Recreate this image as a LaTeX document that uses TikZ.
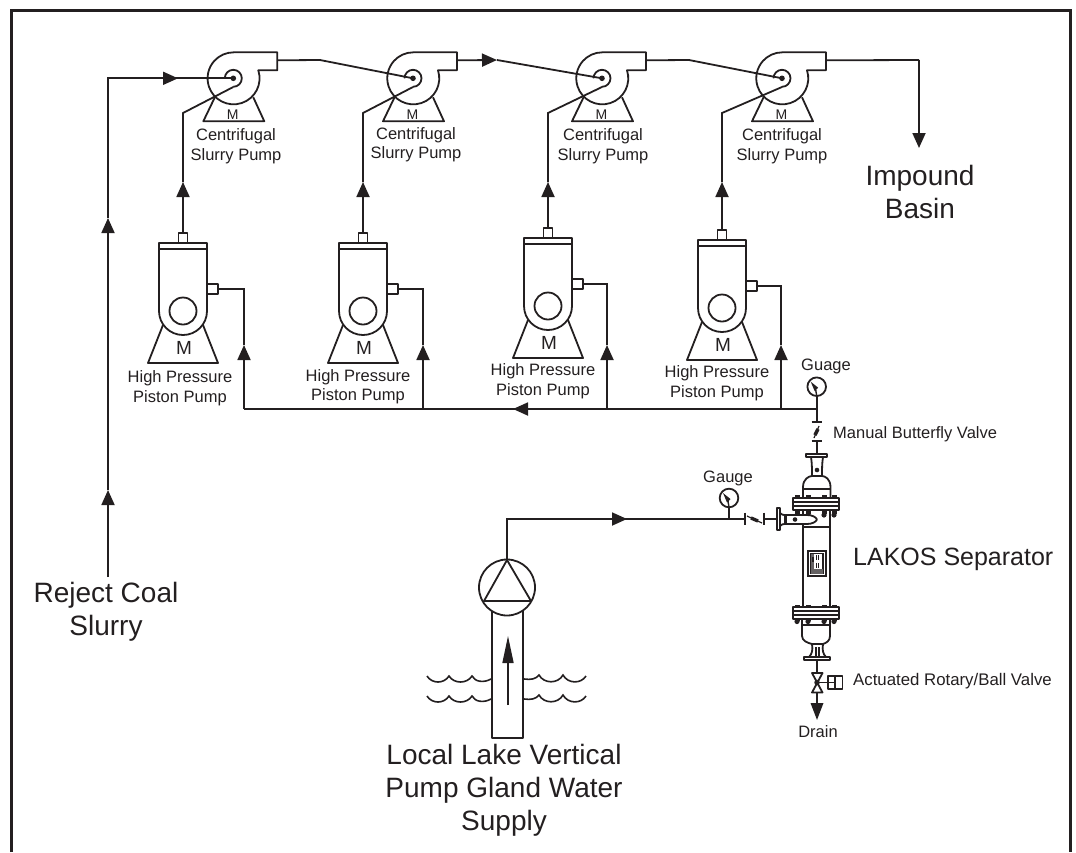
\documentclass[tikz,border=0pt]{standalone}
\usepackage{fontspec}
\setmainfont{Liberation Sans}
\usetikzlibrary{arrows.meta}
\definecolor{PlantInk}{HTML}{231F20}

\tikzset{
  pipeline/.style={PlantInk,line width=1.8pt,line join=miter},
  pipetip/.style={pipeline,-{Triangle[length=15pt,width=13pt]}},
  outline/.style={PlantInk,line width=1.8pt,line join=round},
  smalllabel/.style={PlantInk,font=\fontsize{16.5}{19.5}\selectfont,align=center,inner sep=0pt},
  largelabel/.style={PlantInk,font=\fontsize{28}{33}\selectfont,align=center,inner sep=0pt},
  slurrypump/.pic={
    \draw[outline] (25,-8) arc[start angle=-18,end angle=270,radius=26]
      -- (44,-26) -- (44,-8) -- cycle;
    \draw[outline] (-18.3,18.7) -- (-30,43) -- (31,43) -- (20,19);
    \draw[outline] (-8.5,0) arc[start angle=180,end angle=450,radius=8.5];
    \fill[PlantInk] (0,0) circle (2.8);
    \node[smalllabel,font=\fontsize{14}{14}\selectfont] (-motor) at (-0.5,36) {M};
    \coordinate (-eye) at (0,0);
    \coordinate (-suction) at (0,8.7);
    \coordinate (-discharge) at (44,-18);
  },
  pistonpump/.pic={
    \draw[outline] (-24,-62) -- (-24,0) arc[start angle=180,end angle=0,radius=24] -- (24,-62);
    \draw[outline] (-24,-68) rectangle (24,-62);
    \draw[outline] (-4.5,-78) rectangle (4.5,-68);
    \draw[outline] (24,-27) rectangle (35,-17);
    \draw[outline] (0,0) circle (13.5);
    \draw[outline] (-20,14) -- (-35,52) -- (35,52) -- (20,14);
    \node[smalllabel,font=\fontsize{19}{19}\selectfont] (-motor) at (1,37) {M};
    \coordinate (-outlet) at (0,-78);
    \coordinate (-inlet) at (35,-22);
  },
  dialgauge/.pic={
    \draw[outline] (0,0) circle (9.3);
    \draw[PlantInk,line width=1.4pt] (0,9.3) -- (-1,3);
    \fill[PlantInk] (-6,-5) -- (1.5,1) -- (-2,4.5) -- cycle;
    \coordinate (-stem) at (0,9.3);
  },
}

\begin{document}
\begin{tikzpicture}[x=1pt,y=-1pt]
  \useasboundingbox (0,0) rectangle (1076,852);
  % border, open at the foot
  \draw[PlantInk,line width=3pt] (11.5,852) -- (11.5,10) -- (1070,10) -- (1070,852);

  % centrifugal row
  \foreach \idx/\cx in {1/233.3,2/413,3/602,4/782}
    \pic (cp\idx) at (\cx,78.3) {slurrypump};
  \node[smalllabel] (cplabel1) at (236,146) {Centrifugal\\Slurry Pump};
  \node[smalllabel] (cplabel2) at (416,144.5) {Centrifugal\\Slurry Pump};
  \node[smalllabel] (cplabel3) at (603,146) {Centrifugal\\Slurry Pump};
  \node[smalllabel] (cplabel4) at (782,146) {Centrifugal\\Slurry Pump};

  % piston row
  \foreach \idx/\cx/\cy in {1/183/311,2/363/311,3/548/306,4/722/308}
    \pic (hp\idx) at (\cx,\cy) {pistonpump};
  \node[smalllabel] (hplabel1) at (180,388) {High Pressure\\Piston Pump};
  \node[smalllabel] (hplabel2) at (358,386.5) {High Pressure\\Piston Pump};
  \node[smalllabel] (hplabel3) at (543,381) {High Pressure\\Piston Pump};
  \node[smalllabel] (hplabel4) at (717,383) {High Pressure\\Piston Pump};

  % slurry train
  \coordinate (slurryfoot) at (108,577);
  \coordinate (slurrytipa) at (108,490);
  \coordinate (slurrytipb) at (108,218);
  \coordinate (slurrycorner) at (108,78.3);
  \coordinate (slurrytipc) at (178,78.3);
  \draw[pipetip] (slurryfoot) -- (slurrytipa);
  \draw[pipetip] (slurrytipa) -- (slurrytipb);
  \draw[pipeline] (slurrytipb) -- (slurrycorner) -- (cp1-eye);
  \draw[pipetip] (slurrycorner) -- (slurrytipc);

  \coordinate (linkbenda) at (320,60);
  \coordinate (linkbendb) at (497,60);
  \coordinate (linkbendc) at (689,60);
  \draw[pipeline] (cp1-discharge) -- (linkbenda) -- (cp2-eye);
  \draw[pipetip] (cp2-discharge) -- (linkbendb);
  \draw[pipeline] (linkbendb) -- (cp3-eye);
  \draw[pipeline] (cp3-discharge) -- (linkbendc) -- (cp4-eye);

  \coordinate (basincorner) at (919,60);
  \coordinate (basintip) at (919,148);
  \draw[pipeline] (cp4-discharge) -- (basincorner);
  \draw[pipetip] (basincorner) -- (basintip);

  % piston to centrifugal
  \foreach \idx/\rx in {1/183,2/363,3/548,4/722} {
    \coordinate (risetip\idx) at (\rx,182);
    \coordinate (knee\idx) at (\rx,113);
    \draw[pipetip] (hp\idx-outlet) -- (risetip\idx);
    \draw[pipeline] (risetip\idx) -- (knee\idx) -- (cp\idx-suction);
  }

  % gland water header
  \coordinate (headerend) at (816.7,409);
  \coordinate (headertip) at (513,409);
  \draw[pipeline] (headerend) -- (244,409);
  \draw[pipetip] (headerend) -- (headertip);
  \foreach \idx/\hx in {1/244,2/423,3/607,4/781} {
    \coordinate (feedfoot\idx) at (\hx,409);
    \coordinate (feedtip\idx) at (\hx,345);
    \draw[pipetip] (feedfoot\idx) -- (feedtip\idx);
    \draw[pipeline] (feedtip\idx) |- (hp\idx-inlet);
  }

  % top gauge and butterfly valve
  \pic (gaugetop) at (816.7,386.7) {dialgauge};
  \node[smalllabel] (gaugetoplabel) at (826,366) {Guage};
  \coordinate (valvetop) at (816.7,422);
  \coordinate (valvelow) at (816.7,441);
  \coordinate (sepinlet) at (816.7,455);
  \draw[pipeline] (gaugetop-stem) -- (valvetop);
  \draw[pipeline] (valvelow) -- (sepinlet);
  \draw[outline] (811.5,422) -- (822,422);
  \draw[outline] (811.5,441) -- (822,441);
  \draw[PlantInk,line width=1.2pt] (819,426) -- (814,438);
  \draw[PlantInk,line width=3.4pt] (818,429) -- (815,435);
  \node[smalllabel,anchor=west] (butterflylabel) at (833,434) {Manual Butterfly Valve};

  % lake pump and its pipe
  \draw[outline] (492,600) -- (492,738) -- (523,738) -- (523,600);
  \draw[outline,fill=white] (507,587.5) circle (28);
  \coordinate (lakeapex) at (507,560);
  \draw[outline] (lakeapex) -- (484,601) -- (531,601) -- cycle;
  \coordinate (liftfoot) at (508,705);
  \coordinate (lifttip) at (508,636);
  \draw[PlantInk,line width=1.6pt,-{Triangle[length=27pt,width=11pt]}] (liftfoot) -- (lifttip);
  \foreach \wy in {0,20} {
    \draw[PlantInk,line width=1.6pt,yshift=-\wy pt]
      (427,676) .. controls (432,684) and (444,684) .. (449,676)
      .. controls (454,684) and (467,684) .. (472,676)
      .. controls (475,682) and (484,683) .. (491,679);
    \draw[PlantInk,line width=1.6pt,yshift=-\wy pt]
      (524,679) .. controls (531,680) and (536,679) .. (539,675)
      .. controls (544,684) and (558,684) .. (563,675)
      .. controls (568,684) and (581,684) .. (586,676);
  }

  % inlet with its gauge and check valve
  \coordinate (inletcorner) at (507,519);
  \coordinate (inlettip) at (627,519);
  \coordinate (inletend) at (745,519);
  \draw[pipeline] (lakeapex) -- (inletcorner) -- (inletend);
  \draw[pipetip] (inletcorner) -- (inlettip);
  \pic (gaugeside) at (729,498) {dialgauge};
  \node[smalllabel] (gaugesidelabel) at (728,478) {Gauge};
  \coordinate (gaugesidefoot) at (729,519);
  \draw[pipeline] (gaugeside-stem) -- (gaugesidefoot);
  \draw[outline] (745,512.5) -- (745,525);
  \draw[outline] (764,512.5) -- (764,525);
  \draw[PlantInk,line width=1.2pt] (747,516) -- (762,523);
  \draw[PlantInk,line width=3.4pt] (751,518) -- (758,521);
  \coordinate (sepstub) at (764,519);
  \coordinate (sepflange) at (777,519);
  \draw[pipeline] (sepstub) -- (sepflange);

  % separator
  \draw[outline] (803,527) -- (830,527);
  \draw[outline] (803,510) -- (803,608);
  \draw[outline] (830,510) -- (830,608);
  \draw[outline] (806,454) rectangle (827,457);
  \draw[outline] (811,457) .. controls (812,463) and (812,470) .. (812,476);
  \draw[outline] (823,457) .. controls (822,463) and (822,470) .. (822,476);
  \fill[PlantInk] (817,470) circle (2.3);
  \draw[outline] (803,498) -- (803,487) .. controls (803,479) and (809,476) .. (812,476)
    -- (822,476) .. controls (825,476) and (830.5,479) .. (830.5,487) -- (830.5,498);
  \draw[outline] (803,489) -- (830.5,489);
  \foreach \boltx in {797,808,824,834} {
    \fill[PlantInk] (\boltx-2.5,495) rectangle (\boltx+2.5,498.5);
    \fill[PlantInk] (\boltx-2.5,510) rectangle (\boltx+2.5,514);
    \fill[PlantInk] (\boltx,515) circle (2.6);
  }
  \draw[outline,fill=white] (793,498) rectangle (839,510);
  \draw[PlantInk,line width=1.1pt] (793,502) -- (839,502) (793,506) -- (839,506);
  % scroll inlet
  \draw[outline] (777,508) rectangle (780,530);
  \draw[outline] (780,513) .. controls (782,515) and (783,515) .. (785,515);
  \draw[outline] (780,526) .. controls (782,524) and (783,524) .. (785,524);
  \draw[outline,fill=white] (785,515) -- (807,515) .. controls (812,515) and (816,517) .. (817,519.5)
    .. controls (816,522) and (812,524) .. (807,524) -- (785,524) -- cycle;
  \fill[PlantInk] (785,515) rectangle (787,524);
  \fill[PlantInk] (795,519.5) circle (2.3);
  % sight window
  \draw[PlantInk,line width=1.5pt,fill=white] (808,551) rectangle (826,576);
  \draw[PlantInk,line width=1.1pt,fill=white] (811,553.5) rectangle (823,573.5);
  \fill[PlantInk!70] (811,553.5) rectangle (814,573.5);
  \fill[PlantInk] (811.5,556.5) rectangle (814,562);
  \draw[PlantInk,line width=0.9pt] (816.5,555) -- (816.5,560) (816.5,563) -- (816.5,568)
    (818.5,555) -- (818.5,560) (818.5,563) -- (818.5,568);
  \fill[PlantInk!70] (811,569) rectangle (823,573.5);
  % lower flange and drain bowl
  \foreach \boltx in {797,808,824,834} {
    \fill[PlantInk] (\boltx-2.5,604.5) rectangle (\boltx+2.5,608);
    \fill[PlantInk] (\boltx-2.5,618) rectangle (\boltx+2.5,621);
    \fill[PlantInk] (\boltx,621.5) circle (2.6);
  }
  \draw[outline,fill=white] (793,607) rectangle (839,619);
  \draw[PlantInk,line width=1.1pt] (793,611) -- (839,611) (793,615) -- (839,615);
  \draw[outline] (802,625) -- (830,625);
  \draw[outline] (802,619) -- (802,636) .. controls (802,641) and (808,643) .. (812,644)
    -- (823,644) .. controls (826,643) and (830,641) .. (830,636) -- (830,619);
  \draw[outline] (812,644) .. controls (813,650) and (812,654) .. (809,657);
  \draw[outline] (823,644) .. controls (822,650) and (823,654) .. (826,657);
  \draw[PlantInk,line width=1.1pt] (816,647) -- (816,657) (819,647) -- (819,657);
  \draw[outline] (804,657) rectangle (830,660);

  % drain valve
  \coordinate (drainflange) at (817,660);
  \coordinate (ballcentre) at (817,682.5);
  \coordinate (balllow) at (817,693);
  \coordinate (draintip) at (817,720);
  \draw[pipeline] (drainflange) -- (817,673);
  \draw[outline] (812,673) -- (822.5,673) -- (812,692.5) -- (822.5,692.5) -- cycle;
  \draw[PlantInk,line width=1.4pt] (ballcentre) circle (2);
  \coordinate (actuatorport) at (828,682.5);
  \draw[pipeline] (ballcentre) -- (actuatorport);
  \draw[outline] (828,676) rectangle (842.5,689);
  \draw[PlantInk,line width=1.2pt] (835,676) -- (835,689) (828,682.5) -- (835,682.5);
  \draw[PlantInk,line width=1.8pt,-{Triangle[length=17pt,width=12.5pt]}] (balllow) -- (draintip);
  \node[smalllabel,anchor=west,font=\fontsize{16.8}{19.5}\selectfont] (actuatedlabel) at (853,681) {Actuated Rotary/Ball Valve};
  \node[smalllabel] (drainlabel) at (818,732) {Drain};

  % large captions
  \node[largelabel] (basinlabel) at (920,191.5) {Impound\\Basin};
  \node[largelabel] (slurrylabel) at (106,612) {Reject Coal\\Slurry};
  \node[largelabel,font=\fontsize{25}{30}\selectfont,anchor=west] (lakoslabel) at (853,559) {LAKOS Separator};
  \node[largelabel] (lakelabel) at (504,790) {Local Lake Vertical\\Pump Gland Water\\Supply};
\end{tikzpicture}
\end{document}
